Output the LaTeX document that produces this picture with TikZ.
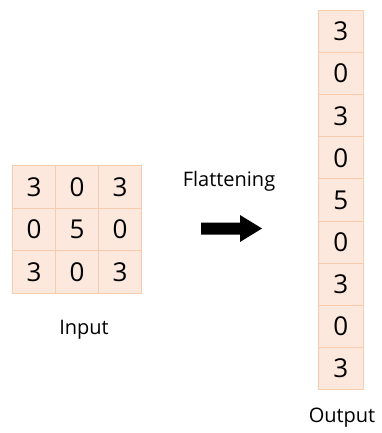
\documentclass[tikz,border=0pt]{standalone}
\usepackage{fontspec}
\setmainfont[Ligatures={NoCommon}]{Open Sans}
\definecolor{cellfill}{HTML}{FCE8DC}
\definecolor{celldraw}{HTML}{F8CBAD}
\tikzset{
  cell/.style={draw=celldraw, fill=cellfill, line width=1pt, minimum width=43pt, minimum height=42.5pt, inner sep=0pt, font=\fontsize{26}{28}\selectfont, anchor=north west},
  col/.style={cell, minimum width=44.5pt, minimum height=42.1pt},
  lbl/.style={font=\fontsize{20}{22}\selectfont}
}
\begin{document}
\begin{tikzpicture}[x=1pt,y=-1pt]
\useasboundingbox (0,0) rectangle (382,433);
% input grid
\node[cell] (a11) at (12,165) {3};
\node[cell] (a12) at (55,165) {0};
\node[cell] (a13) at (98,165) {3};
\node[cell] (a21) at (12,207.5) {0};
\node[cell] (a22) at (55,207.5) {5};
\node[cell] (a23) at (98,207.5) {0};
\node[cell] (a31) at (12,250) {3};
\node[cell] (a32) at (55,250) {0};
\node[cell] (a33) at (98,250) {3};
\node[lbl] (in) at (84,330) {Input};
% output column
\foreach \v [count=\i from 0] in {3,0,3,0,5,0,3,0,3} {
  \node[col] (o\i) at (318,{10+42.1*\i}) {\v};
}
\node[lbl] (out) at (342,418) {Output};
\node[lbl] (fl) at (229,181) {Flattening};
\fill[black] (201,222.5) -- (240,222.5) -- (240,215) -- (262,228.5) -- (240,242) -- (240,234.5) -- (201,234.5) -- cycle;
\end{tikzpicture}
\end{document}
